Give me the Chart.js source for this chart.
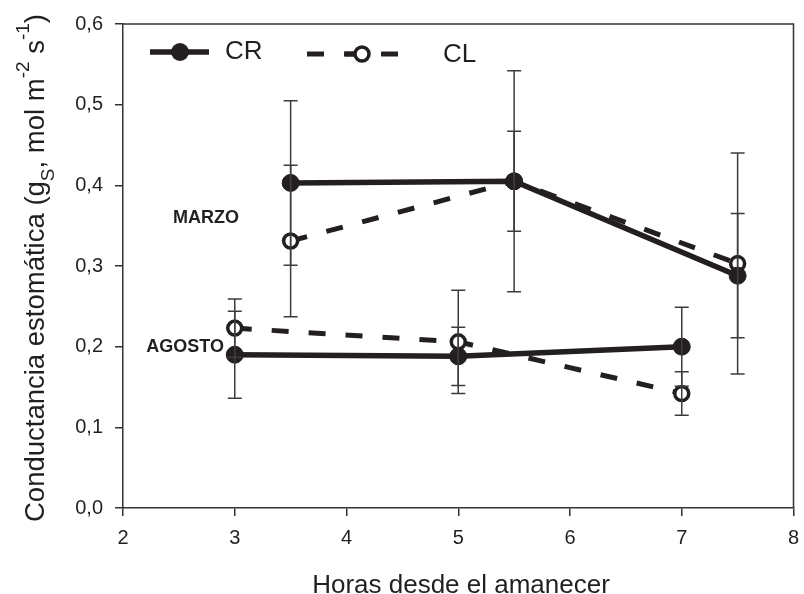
<!DOCTYPE html>
<html lang="es">
<head>
    <meta charset="UTF-8">
    <title>Conductancia estomática</title>
    <script src="https://cdn.jsdelivr.net/npm/chart.js"></script>
    <style>
        body {
            margin: 0;
            background: #ffffff;
        }
        #gsChart {
            display: block;
        }
    </style>
</head>
<body>
    <canvas id="gsChart" width="804" height="594"></canvas>

    <script>
        // Horas desde el amanecer
        const hoursMarzo = [3.5, 5.5, 7.5];
        const hoursAgosto = [3, 5, 7];

        // gs medias y error (mol m-2 s-1)
        const crMarzo = [0.403, 0.405, 0.288];
        const crMarzoErr = [0.102, 0.137, 0.077];
        const clMarzo = [0.331, 0.405, 0.303];
        const clMarzoErr = [0.094, 0.062, 0.137];
        const crAgosto = [0.190, 0.188, 0.200];
        const crAgostoErr = [0.054, 0.036, 0.049];
        const clAgosto = [0.223, 0.206, 0.142];
        const clAgostoErr = [0.036, 0.064, 0.027];

        const xTicks = [2, 3, 4, 5, 6, 7, 8];
        const yTicks = [0, 0.1, 0.2, 0.3, 0.4, 0.5, 0.6];

        const FONT = "'Liberation Sans', Arial, Helvetica, sans-serif";
        const INK = '#231f20';

        function points(xs, ys, errs) {
            return xs.map((x, i) => ({ x: x, y: ys[i], err: errs[i] }));
        }

        function crStyle(label, data) {
            return {
                label: label,
                data: data,
                borderColor: INK,
                borderWidth: 5.5,
                pointRadius: 8.5,
                pointBackgroundColor: INK,
                pointBorderColor: INK,
                pointBorderWidth: 1,
                order: 0
            };
        }

        function clStyle(label, data) {
            return {
                label: label,
                data: data,
                borderColor: INK,
                borderWidth: 5,
                borderDash: [17, 20],
                pointRadius: 7,
                pointBackgroundColor: '#ffffff',
                pointBorderColor: INK,
                pointBorderWidth: 3.5,
                order: 1
            };
        }

        // error bars, drawn over the markers like in the original figure
        const errorBars = {
            id: 'errorBars',
            afterDatasetsDraw(chart) {
                const ctx = chart.ctx;
                const y = chart.scales.y;
                ctx.save();
                ctx.strokeStyle = '#3c3c3c';
                ctx.lineWidth = 1.5;
                chart.data.datasets.forEach((ds, di) => {
                    const meta = chart.getDatasetMeta(di);
                    meta.data.forEach((pt, i) => {
                        const d = ds.data[i];
                        const top = y.getPixelForValue(d.y + d.err);
                        const bot = y.getPixelForValue(d.y - d.err);
                        ctx.beginPath();
                        ctx.moveTo(pt.x, top);
                        ctx.lineTo(pt.x, bot);
                        ctx.moveTo(pt.x - 7, top);
                        ctx.lineTo(pt.x + 7, top);
                        ctx.moveTo(pt.x - 7, bot);
                        ctx.lineTo(pt.x + 7, bot);
                        ctx.stroke();
                    });
                });
                ctx.restore();
            }
        };

        // frame, legend, month labels and axis titles
        const decorations = {
            id: 'decorations',
            afterDraw(chart) {
                const ctx = chart.ctx;
                const a = chart.chartArea;
                const xs = chart.scales.x;
                const ys = chart.scales.y;
                ctx.save();

                // top / right frame
                ctx.strokeStyle = '#333333';
                ctx.lineWidth = 1.5;
                ctx.beginPath();
                ctx.moveTo(a.left, a.top);
                ctx.lineTo(a.right, a.top);
                ctx.lineTo(a.right, a.bottom);
                ctx.stroke();

                // legend
                ctx.strokeStyle = INK;
                ctx.fillStyle = INK;
                ctx.lineWidth = 5.5;
                ctx.beginPath();
                ctx.moveTo(150, 52);
                ctx.lineTo(209, 52);
                ctx.stroke();
                ctx.beginPath();
                ctx.arc(180, 52, 9, 0, Math.PI * 2);
                ctx.fill();

                ctx.lineWidth = 5;
                ctx.setLineDash([17, 20]);
                ctx.beginPath();
                ctx.moveTo(307, 54);
                ctx.lineTo(406, 54);
                ctx.stroke();
                ctx.setLineDash([]);
                ctx.beginPath();
                ctx.moveTo(345, 54);
                ctx.lineTo(362, 54);
                ctx.stroke();
                ctx.lineWidth = 3.5;
                ctx.fillStyle = '#ffffff';
                ctx.beginPath();
                ctx.arc(362, 54, 7, 0, Math.PI * 2);
                ctx.fill();
                ctx.stroke();

                ctx.fillStyle = INK;
                ctx.font = '26px ' + FONT;
                ctx.textAlign = 'left';
                ctx.textBaseline = 'middle';
                ctx.fillText('CR', 225, 52);
                ctx.fillText('CL', 443, 55);

                // month labels
                ctx.font = 'bold 18px ' + FONT;
                ctx.textAlign = 'center';
                ctx.fillText('MARZO', xs.getPixelForValue(2.743), ys.getPixelForValue(0.360));
                ctx.fillText('AGOSTO', xs.getPixelForValue(2.556), ys.getPixelForValue(0.1996));

                // x title
                ctx.font = '26px ' + FONT;
                ctx.textBaseline = 'alphabetic';
                ctx.fillText('Horas desde el amanecer', 461, 593);

                // y title with sub/superscripts
                const main = 27.5, small = 19;
                const parts = [
                    ['Conductancia estomática (g', main, 0],
                    ['S', small, 10],
                    [', mol m', main, 0],
                    ['-2', small, -15],
                    [' s', main, 0],
                    ['-1', small, -15],
                    [')', main, 0]
                ];
                let total = 0;
                parts.forEach(p => {
                    ctx.font = p[1] + 'px ' + FONT;
                    total += ctx.measureText(p[0]).width;
                });
                ctx.translate(44, 268);
                ctx.rotate(-Math.PI / 2);
                ctx.textAlign = 'left';
                let u = -total / 2;
                parts.forEach(p => {
                    ctx.font = p[1] + 'px ' + FONT;
                    ctx.fillText(p[0], u, p[2]);
                    u += ctx.measureText(p[0]).width;
                });

                ctx.restore();
            }
        };

        const ctx = document.getElementById('gsChart').getContext('2d');
        const gsChart = new Chart(ctx, {
            type: 'line',
            data: {
                datasets: [
                    crStyle('CR marzo', points(hoursMarzo, crMarzo, crMarzoErr)),
                    crStyle('CR agosto', points(hoursAgosto, crAgosto, crAgostoErr)),
                    clStyle('CL marzo', points(hoursMarzo, clMarzo, clMarzoErr)),
                    clStyle('CL agosto', points(hoursAgosto, clAgosto, clAgostoErr))
                ]
            },
            options: {
                responsive: false,
                animation: false,
                devicePixelRatio: 1,
                layout: {
                    padding: { top: 23, right: 7, left: 0, bottom: 0 }
                },
                plugins: {
                    legend: { display: false },
                    tooltip: { enabled: false }
                },
                scales: {
                    x: {
                        type: 'linear',
                        min: 2,
                        max: 8,
                        afterBuildTicks: scale => {
                            scale.ticks = xTicks.map(v => ({ value: v }));
                        },
                        afterFit: scale => {
                            scale.height = 86;
                            scale.paddingRight = 0;
                            scale.paddingLeft = 0;
                        },
                        grid: {
                            drawOnChartArea: false,
                            drawTicks: true,
                            tickLength: 8,
                            color: '#333333',
                            lineWidth: 1.5
                        },
                        border: { display: true, color: '#333333', width: 1.5 },
                        ticks: {
                            color: INK,
                            padding: 10,
                            font: { family: FONT, size: 20 },
                            maxRotation: 0
                        }
                    },
                    y: {
                        type: 'linear',
                        min: 0,
                        max: 0.6,
                        afterBuildTicks: scale => {
                            scale.ticks = yTicks.map(v => ({ value: v }));
                        },
                        afterFit: scale => {
                            scale.width = 123;
                        },
                        grid: {
                            drawOnChartArea: false,
                            drawTicks: true,
                            tickLength: 8,
                            color: '#333333',
                            lineWidth: 1.5
                        },
                        border: { display: true, color: '#333333', width: 1.5 },
                        ticks: {
                            color: INK,
                            padding: 12,
                            font: { family: FONT, size: 20 },
                            callback: v => v.toFixed(1).replace('.', ',')
                        }
                    }
                }
            },
            plugins: [errorBars, decorations]
        });
    </script>
</body>
</html>
